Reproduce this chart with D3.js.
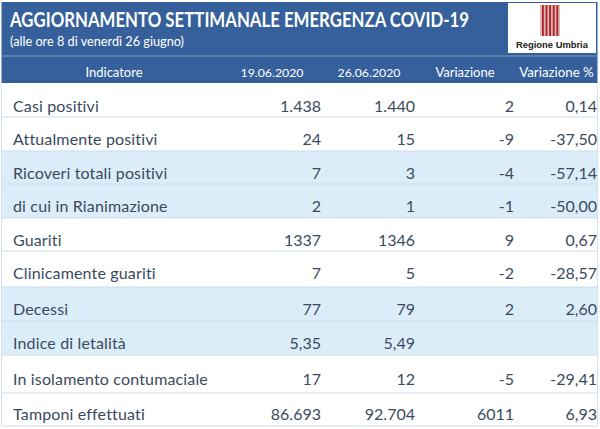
<!DOCTYPE html>
<html><head><meta charset="utf-8">
<script src="https://cdn.jsdelivr.net/npm/d3@7/dist/d3.min.js"></script>
<style>html,body{margin:0;padding:0;background:#fff}svg{display:block}text{font-family:Lato,"Open Sans",sans-serif}</style>
</head><body><svg id="c" width="600" height="429"></svg>
<script>
const title = "AGGIORNAMENTO SETTIMANALE EMERGENZA COVID-19";
const subtitle = "(alle ore 8 di venerdì 26 giugno)";
const columns = ["Indicatore","19.06.2020","26.06.2020","Variazione","Variazione %"];
const indicators = ["Casi positivi","Attualmente positivi","Ricoveri totali positivi","di cui in Rianimazione","Guariti","Clinicamente guariti","Decessi","Indice di letalità","In isolamento contumaciale","Tamponi effettuati"];
const week1 = ["1.438","24","7","2","1337","7","77","5,35","17","86.693"];
const week2 = ["1.440","15","3","1","1346","5","79","5,49","12","92.704"];
const change = ["2","-9","-4","-1","9","-2","2","","-5","6011"];
const changePct = ["0,14","-37,50","-57,14","-50,00","0,67","-28,57","2,60","","-29,41","6,93"];
const shaded = [false,false,true,true,false,false,true,true,false,false];
const rowEdges = [84,117,151,184,218,251,287,321,355,393,426];
const baselines = [112,145,179,212,246,279,315,349,385,420];

const svg = d3.select("#c");
const blue="#36609b", ink="#3b4a5e";
svg.append("rect").attr("x",1.5).attr("y",2).attr("width",596).attr("height",81).attr("fill",blue);
svg.append("line").attr("x1",1.5).attr("x2",597.5).attr("y1",56).attr("y2",56).attr("stroke","#7d9cc4");
svg.append("text").attr("x",10).attr("y",27).attr("fill","#fff").attr("font-size",20).attr("font-weight",700).attr("textLength",459).attr("lengthAdjust","spacingAndGlyphs").text(title);
svg.append("text").attr("x",10).attr("y",46).attr("fill","#fff").attr("font-size",12.5).attr("textLength",174).attr("lengthAdjust","spacingAndGlyphs").text(subtitle);

// logo
const logo=svg.append("g");
logo.append("rect").attr("x",508).attr("y",3).attr("width",88).attr("height",50).attr("fill","#fff");
logo.append("text").attr("x",552).attr("y",48).attr("text-anchor","middle").attr("font-size",9.4).attr("font-weight",700).attr("fill","#222").style("font-family","Liberation Sans").text("Regione Umbria");
const logoBars=[0,1,2,3,4];
logo.append("rect").attr("x",540).attr("y",5).attr("width",20).attr("height",31).attr("fill","#d9b9b5");
logoBars.forEach(i=>logo.append("rect").attr("x",542+i*3.6).attr("y",5).attr("width",1.8).attr("height",31).attr("fill","#b4202a"));

const cols=[[321,week1],[415,week2],[514,change],[597,changePct]];
const headerX=[114,272,369,465,556.5];
const headerSize=[13,12.3,12.3,13,13.3];
columns.forEach((c,i)=>svg.append("text").attr("x",headerX[i]).attr("y",76.5).attr("text-anchor","middle").attr("fill","#fff").attr("font-size",headerSize[i]).text(c));

const g=svg.append("g");
indicators.forEach((name,i)=>{
  if(shaded[i]) g.append("rect").attr("x",1.5).attr("y",rowEdges[i]).attr("width",596).attr("height",rowEdges[i+1]-rowEdges[i]).attr("fill","#dcedfa");
});
g.append("line").attr("x1",1.5).attr("x2",1.5).attr("y1",84).attr("y2",426).attr("stroke","#d5e2ee");
g.append("line").attr("x1",597.5).attr("x2",597.5).attr("y1",84).attr("y2",426).attr("stroke","#d5e2ee");
indicators.forEach((name,i)=>{
  g.append("line").attr("x1",1.5).attr("x2",597.5).attr("y1",rowEdges[i+1]).attr("y2",rowEdges[i+1]).attr("stroke","#c9dcec");
  g.append("text").attr("x",13).attr("y",baselines[i]).attr("fill",ink).attr("font-size",16).style("letter-spacing","0.15px").text(name);
  cols.forEach(([x,arr])=>g.append("text").attr("x",x).attr("y",baselines[i]).attr("text-anchor","end").attr("fill",ink).attr("font-size",16).text(arr[i]));
});
</script></body></html>
